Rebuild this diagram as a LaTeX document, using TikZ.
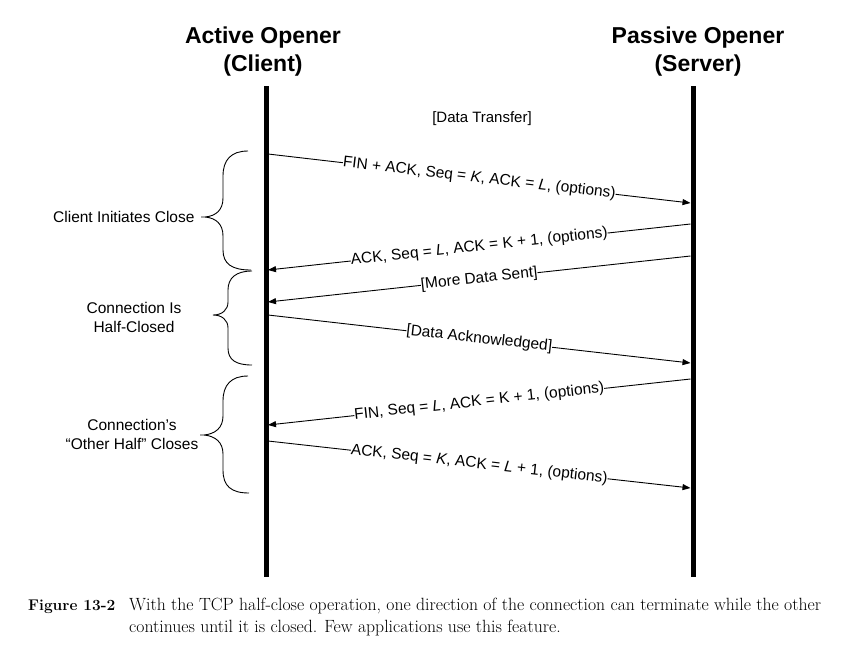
\documentclass[tikz,border=0pt]{standalone}
\usepackage{fontspec}
\newfontfamily\arial{Liberation Sans}
\usetikzlibrary{arrows.meta}
\begin{document}
\begin{tikzpicture}[x=1pt,y=-1pt,
  life/.style={line width=5pt},
  msg/.style={line width=0.9pt,-{Triangle[length=8pt,width=6pt]}},
  lbl/.style={font=\arial\fontsize{15.5}{18}\selectfont, fill=white, inner sep=0pt, sloped, midway},
  side/.style={font=\arial\fontsize{15.5}{19}\selectfont, align=center},
  ttl/.style={font=\arial\bfseries\fontsize{23}{28}\selectfont, anchor=base},
  bracepath/.style={line width=0.9pt},
  captxt/.style={font=\fontsize{17.7}{22}\selectfont, anchor=base west, inner sep=0pt}]
\useasboundingbox (0,0) rectangle (868,657);

% titles
\node[ttl] (t1) at (263,43) {Active Opener};
\node[ttl] (t2) at (263,71) {(Client)};
\node[ttl] (t3) at (698,43) {Passive Opener};
\node[ttl] (t4) at (698,71) {(Server)};

% lifelines
\coordinate (ctop) at (266,86);
\coordinate (cbot) at (266,577);
\coordinate (stop) at (693,86);
\coordinate (sbot) at (693,577);
\draw[life] (ctop) -- (cbot);
\draw[life] (stop) -- (sbot);

\node[font=\arial\fontsize{15}{18}\selectfont] (dt) at (482,119) {[Data Transfer]};

% message end points
\coordinate (c1) at (268,154);  \coordinate (s1) at (690.5,203);
\coordinate (s2) at (690.5,224); \coordinate (c2) at (268,270);
\coordinate (s3) at (690.5,256); \coordinate (c3) at (268,302);
\coordinate (c4) at (268,315);  \coordinate (s4) at (690.5,363);
\coordinate (s5) at (690.5,379); \coordinate (c5) at (268,425);
\coordinate (c6) at (268,441);  \coordinate (s6) at (690.5,488);

\draw[msg] (c1) -- node[lbl] {FIN + ACK, Seq = \textit{K}, ACK = \textit{L}, (options)} (s1);
\draw[msg] (s2) -- node[lbl] {ACK, Seq = \textit{L}, ACK = K + 1, (options)} (c2);
\draw[msg] (s3) -- node[lbl] {[More Data Sent]} (c3);
\draw[msg] (c4) -- node[lbl] {[Data Acknowledged]} (s4);
\draw[msg] (s5) -- node[lbl] {FIN, Seq = \textit{L}, ACK = K + 1, (options)} (c5);
\draw[msg] (c6) -- node[lbl] {ACK, Seq = \textit{K}, ACK = \textit{L} + 1, (options)} (s6);

% braces
\draw[bracepath] (248,151) .. controls (231,151) and (223,160) .. (223,176) -- (223,198)
  .. controls (223,210) and (216,216) .. (205,217) -- (201,217) -- (205,217)
  .. controls (216,218) and (223,224) .. (223,236) -- (223,250)
  .. controls (223,264) and (232,270) .. (251,270);
\draw[bracepath] (252,271) .. controls (236,271) and (228,278) .. (228,290) -- (228,302)
  .. controls (228,310) and (222,315) .. (213,315)
  .. controls (222,315) and (228,320) .. (228,328) -- (228,348)
  .. controls (228,360) and (236,365) .. (252,365);
\draw[bracepath] (248,376) .. controls (231,376) and (223,385) .. (223,401) -- (223,416)
  .. controls (223,428) and (215,434) .. (204,435) -- (200,435) -- (204,435)
  .. controls (215,436) and (223,442) .. (223,454) -- (223,470)
  .. controls (223,486) and (231,493) .. (249,493);

\node[side, anchor=east] (b1) at (198,217) {Client Initiates Close};
\node[side] (b2) at (134,317) {Connection Is\\Half-Closed};
\node[side] (b3) at (132,434) {Connection’s\\“Other Half” Closes};

% caption
\node[captxt, font=\bfseries\fontsize{15.5}{22}\selectfont] (fig) at (28,610) {Figure 13-2};
\node[captxt] (cap1) at (129,610) {With the TCP half-close operation, one direction of the connection can terminate while the other};
\node[captxt] (cap2) at (129,632) {continues until it is closed. Few applications use this feature.};
\end{tikzpicture}
\end{document}
